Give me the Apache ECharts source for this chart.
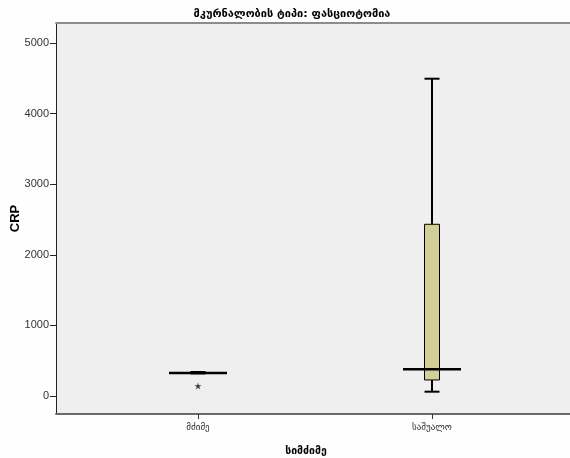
<!DOCTYPE html>
<html>
<head>
<meta charset="utf-8">
<script src="https://cdn.jsdelivr.net/npm/echarts@6/dist/echarts.min.js"></script>
<style>
  html, body { margin: 0; padding: 0; background: #fefefe; }
  #chart { width: 570px; height: 458px; }
</style>
</head>
<body>
<div id="chart"></div>
<script>
// Severity groups along the x axis
const categories = ['მძიმე', 'საშუალო'];
// Five-number summaries per group: [min, Q1, median, Q3, max]
const boxStats = [
  [320, 320, 326, 340, 340],
  [61, 227, 378, 2432, 4494]
];
// Extreme values flagged with a star: [group index, value]
const extremes = [[0, 142]];
// Y-axis tick values
const yTicks = [0, 1000, 2000, 3000, 4000, 5000];

const titleText = 'მკურნალობის ტიპი: ფასციოტომია';
const xName = 'სიმძიმე';
const yName = 'CRP';

const geoFont = '"DejaVu Sans", sans-serif';
const latinFont = 'Arial, "Liberation Sans", sans-serif';

const boxData = boxStats.map((s, i) => [i].concat(s));

const chart = echarts.init(document.getElementById('chart'), null, { renderer: 'canvas' });

function renderBox(params, api) {
  const x = api.value(0);
  const pMin = api.coord([x, api.value(1)]);
  const pQ1 = api.coord([x, api.value(2)]);
  const pMed = api.coord([x, api.value(3)]);
  const pQ3 = api.coord([x, api.value(4)]);
  const pMax = api.coord([x, api.value(5)]);
  const cx = pMed[0];
  const halfBox = 7.5;
  const halfMed = 29;
  const lineStyle = { stroke: '#000', lineWidth: 2, fill: null };
  return {
    type: 'group',
    children: [
      { type: 'line', shape: { x1: cx, y1: pMax[1], x2: cx, y2: pQ3[1] }, style: lineStyle },
      { type: 'line', shape: { x1: cx, y1: pQ1[1], x2: cx, y2: pMin[1] }, style: lineStyle },
      { type: 'line', shape: { x1: cx - halfBox, y1: pMax[1], x2: cx + halfBox, y2: pMax[1] }, style: lineStyle },
      { type: 'line', shape: { x1: cx - halfBox, y1: pMin[1], x2: cx + halfBox, y2: pMin[1] }, style: lineStyle },
      {
        type: 'rect',
        shape: { x: cx - halfBox, y: pQ3[1], width: halfBox * 2, height: Math.max(pQ1[1] - pQ3[1], 1) },
        style: { fill: '#d3cf99', stroke: '#000', lineWidth: 1 }
      },
      { type: 'line', shape: { x1: cx - halfMed, y1: pMed[1], x2: cx + halfMed, y2: pMed[1] }, style: { stroke: '#000', lineWidth: 2.5 } }
    ]
  };
}

const option = {
  backgroundColor: '#fefefe',
  animation: false,
  title: {
    text: titleText,
    left: 287,
    textAlign: 'center',
    top: 4,
    textStyle: { fontFamily: geoFont, fontSize: 11, fontWeight: 'bold', color: '#000' }
  },
  grid: {
    left: 56, right: 0, top: 23, bottom: 44,
    outerBoundsMode: 'none',
    containLabel: false,
    show: true, backgroundColor: '#efefef', borderWidth: 0
  },
  xAxis: [
    {
      type: 'value',
      min: -0.6068,
      max: 1.5897,
      position: 'bottom',
      name: xName,
      nameLocation: 'middle',
      nameGap: 32,
      nameTextStyle: { fontFamily: geoFont, fontSize: 10.5, fontWeight: 'bold', color: '#000', padding: [0, 14, 0, 0] },
      axisLine: { show: true, onZero: false, lineStyle: { color: '#6a6a6a', width: 2 } },
      axisTick: { show: true, length: 5, customValues: [0, 1], lineStyle: { color: '#333' } },
      axisLabel: {
        customValues: [0, 1],
        margin: 9,
        formatter: v => categories[Math.round(v)],
        fontFamily: geoFont, fontSize: 9, color: '#222'
      },
      splitLine: { show: false }
    },
    {
      type: 'value',
      min: -0.6068,
      max: 1.5897,
      position: 'top',
      axisLine: { show: true, onZero: false, lineStyle: { color: '#8c8c8c', width: 2 } },
      axisTick: { show: false },
      axisLabel: { show: false },
      splitLine: { show: false }
    }
  ],
  yAxis: {
    type: 'value',
    min: -255,
    max: 5283,
    name: yName,
    nameLocation: 'middle',
    nameRotate: 90,
    nameGap: 34,
    nameMoveOverlap: false,
    nameTextStyle: { fontFamily: latinFont, fontSize: 13, fontWeight: 'bold', color: '#000' },
    axisLine: { show: true, onZero: false, lineStyle: { color: '#222', width: 1 } },
    axisTick: { show: true, length: 6, customValues: yTicks, lineStyle: { color: '#222' } },
    axisLabel: {
      customValues: yTicks,
      margin: 7,
      formatter: v => String(v),
      fontFamily: latinFont, fontSize: 11, color: '#333'
    },
    splitLine: { show: false }
  },
  series: [
    {
      type: 'custom',
      renderItem: renderBox,
      data: boxData,
      encode: { x: 0, y: [1, 2, 3, 4, 5] },
      clip: true
    },
    {
      type: 'scatter',
      data: extremes,
      symbol: 'path://M50,0 L61,35 L98,35 L68,57 L79,91 L50,70 L21,91 L32,57 L2,35 L39,35 Z',
      symbolSize: 7,
      itemStyle: { color: '#111' }
    }
  ]
};

chart.setOption(option);
</script>
</body>
</html>
